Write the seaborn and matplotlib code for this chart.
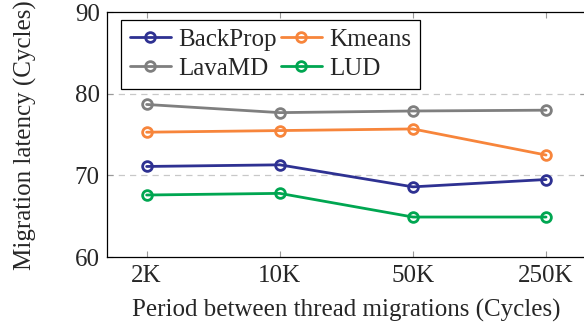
import seaborn as sns
import matplotlib.pyplot as plt
import pandas as pd

# data
periods = ['2K', '10K', '50K', '250K']
backprop = [71.1, 71.3, 68.6, 69.5]
kmeans = [75.3, 75.5, 75.7, 72.5]
lavamd = [78.7, 77.7, 77.9, 78.0]
lud = [67.6, 67.8, 64.9, 64.9]

series = {'BackProp': backprop, 'Kmeans': kmeans, 'LavaMD': lavamd, 'LUD': lud}
colors = {'BackProp': '#2e3192', 'Kmeans': '#f7853b', 'LavaMD': '#7f7f7f', 'LUD': '#00a651'}

rows = []
for name, vals in series.items():
    for p, v in zip(periods, vals):
        rows.append({'period': p, 'latency': v, 'app': name})
df = pd.DataFrame(rows)

sns.set_style('ticks')
plt.rcParams['font.family'] = ['Liberation Serif', 'DejaVu Serif']
fs = 18

fig = plt.figure(figsize=(5.84, 3.25), dpi=100)
ax = fig.add_axes([106.7 / 584, (325 - 257) / 325, 479.3 / 584, 244.7 / 325])

sns.lineplot(data=df, x='period', y='latency', hue='app', palette=colors,
             marker='o', markersize=7, markerfacecolor='none', markeredgewidth=2,
             linewidth=2, ax=ax, legend=False)
# open circles need their edge colour set per line
for line, name in zip(ax.get_lines(), series):
    line.set_markeredgecolor(colors[name])

ax.set_xlim(-0.3, 3.3)
ax.set_ylim(60, 90)
ax.set_yticks([60, 70, 80, 90])
for y in [70, 80]:
    ax.axhline(y, color='#c8c8c8', linestyle=(0, (5, 4)), linewidth=0.9, zorder=0)

ax.tick_params(axis='both', direction='in', labelsize=fs, length=4, color='#999999',
               top=True, right=True, width=0.8)
ax.tick_params(axis='x', pad=6)
ax.tick_params(axis='y', pad=5)
for s in ax.spines.values():
    s.set_linewidth(0.9)
    s.set_color('black')

ax.set_xlabel('Period between thread migrations (Cycles)', fontsize=fs, labelpad=8)
ax.set_ylabel('Migration latency (Cycles)', fontsize=fs, labelpad=27)

# row-wise order like the reference: BackProp Kmeans / LavaMD LUD
order = ['BackProp', 'LavaMD', 'Kmeans', 'LUD']
handles = [plt.Line2D([], [], color=colors[n], marker='o', markersize=7,
                      markerfacecolor='none', markeredgewidth=2, linewidth=2)
           for n in order]
leg = ax.legend(handles, order, ncol=2, loc='upper left',
                bbox_to_anchor=(0.03, 0.969), fontsize=fs, frameon=True,
                fancybox=False, edgecolor='black', framealpha=1,
                handlelength=1.65, columnspacing=0.15, labelspacing=0.25,
                borderpad=0.35, handletextpad=0.3, borderaxespad=0)
leg.get_frame().set_linewidth(0.9)

fig.savefig('out.png', dpi=100)
